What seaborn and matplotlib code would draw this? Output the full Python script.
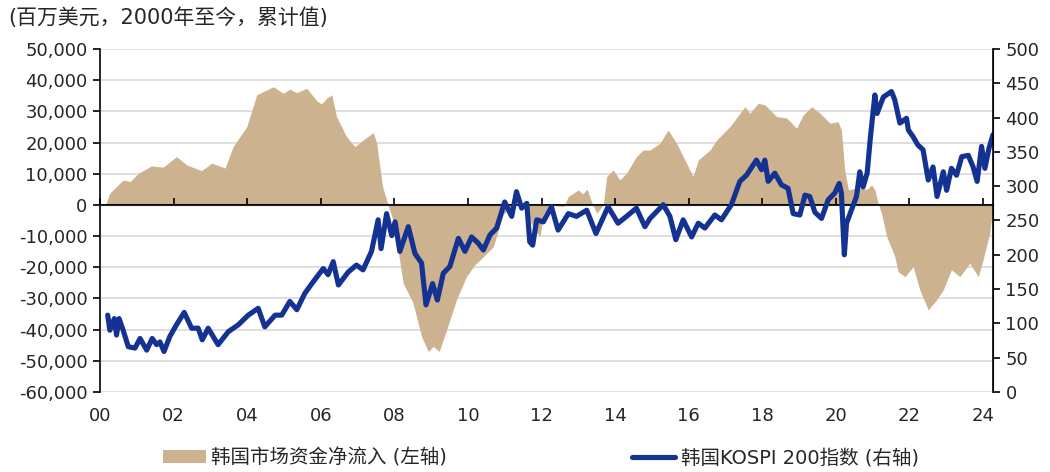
import numpy as np
import pandas as pd
import matplotlib.pyplot as plt
import seaborn as sns
from matplotlib.patches import Patch
from matplotlib.lines import Line2D

sns.set_style('white')
plt.rcParams['font.family'] = ['DejaVu Sans', 'Noto Sans CJK SC']

# %%
# Data
# cumulative net inflow into Korean market, USD mn (left axis)
flow_year = [2000.15, 2000.27, 2000.45, 2000.63, 2000.82, 2001.04, 2001.4, 2001.72, 2002.08, 2002.36,
             2002.76, 2003.04, 2003.4, 2003.62, 2003.99, 2004.26, 2004.71, 2004.98, 2005.16, 2005.35,
             2005.62, 2005.89, 2006.02, 2006.16, 2006.3, 2006.43, 2006.7, 2006.93, 2007.15, 2007.43,
             2007.52, 2007.68, 2007.83, 2008.02, 2008.1, 2008.24, 2008.51, 2008.74, 2008.92, 2009.06,
             2009.22, 2009.42, 2009.69, 2009.96, 2010.19, 2010.42, 2010.69, 2010.96, 2011.14, 2011.32,
             2011.45, 2011.6, 2011.8, 2011.96, 2012.05, 2012.2, 2012.6, 2012.73, 2013.0, 2013.12,
             2013.24, 2013.36, 2013.5, 2013.68, 2013.77, 2013.95, 2014.13, 2014.31, 2014.58, 2014.76,
             2014.95, 2015.22, 2015.44, 2015.67, 2015.85, 2016.12, 2016.26, 2016.58, 2016.76, 2017.12,
             2017.53, 2017.66, 2017.89, 2018.07, 2018.39, 2018.66, 2018.93, 2019.11, 2019.34, 2019.57,
             2019.84, 2020.06, 2020.15, 2020.24, 2020.34, 2020.6, 2020.85, 2020.97, 2021.06, 2021.15,
             2021.24, 2021.38, 2021.6, 2021.69, 2021.88, 2022.1, 2022.28, 2022.51, 2022.74, 2022.92,
             2023.14, 2023.37, 2023.64, 2023.87, 2024.0, 2024.18, 2024.27]
flow_value = [0, 3800, 5900, 8000, 7500, 10100, 12500, 12100, 15500, 12800,
              11000, 13400, 11800, 18700, 25100, 35300, 37900, 35800, 37100, 36000,
              37400, 33400, 32400, 34200, 35300, 28300, 21900, 18700, 20800, 23200,
              19800, 5900, 0, -6900, -14400, -25100, -31500, -42200, -47000, -45400,
              -47000, -40100, -30400, -23000, -19200, -16600, -13400, -3000, -1000, 0,
              500, -2700, -8000, -10000, -3000, 0, -500, 2700, 4800, 3500,
              5100, 1000, -2700, 0, 9100, 11200, 8000, 10200, 15500, 17600,
              17600, 19800, 24000, 19800, 15500, 9100, 14400, 17600, 20800, 25100,
              31500, 29400, 32600, 32100, 28300, 27900, 24600, 28800, 31500, 29400,
              26200, 26700, 24000, 11200, 4800, 5500, 5000, 6400, 4800, 500,
              -2700, -10100, -16500, -21400, -23000, -19800, -27200, -33700, -30400, -27200,
              -20800, -23000, -18700, -23000, -17600, -9100, -500]

# KOSPI 200 index (right axis)
kospi_year = [2000.21, 2000.27, 2000.39, 2000.45, 2000.52, 2000.63, 2000.77, 2000.95, 2001.09, 2001.27,
              2001.42, 2001.54, 2001.63, 2001.74, 2001.9, 2002.08, 2002.29, 2002.49, 2002.67, 2002.78,
              2002.94, 2003.21, 2003.49, 2003.76, 2004.03, 2004.3, 2004.48, 2004.76, 2004.94, 2005.16,
              2005.35, 2005.57, 2005.8, 2006.07, 2006.2, 2006.34, 2006.48, 2006.75, 2006.97, 2007.15,
              2007.38, 2007.56, 2007.64, 2007.79, 2007.93, 2008.02, 2008.15, 2008.38, 2008.56, 2008.74,
              2008.86, 2009.04, 2009.17, 2009.33, 2009.51, 2009.74, 2009.92, 2010.1, 2010.28, 2010.42,
              2010.6, 2010.78, 2011.0, 2011.19, 2011.32, 2011.46, 2011.6, 2011.68, 2011.76, 2011.87,
              2012.05, 2012.27, 2012.45, 2012.73, 2012.95, 2013.23, 2013.48, 2013.81, 2014.08, 2014.31,
              2014.58, 2014.81, 2014.95, 2015.31, 2015.49, 2015.65, 2015.85, 2016.08, 2016.26, 2016.44,
              2016.71, 2016.89, 2017.16, 2017.39, 2017.57, 2017.84, 2017.98, 2018.07, 2018.16, 2018.34,
              2018.52, 2018.7, 2018.84, 2019.02, 2019.16, 2019.29, 2019.43, 2019.61, 2019.79, 2019.97,
              2020.09, 2020.15, 2020.23, 2020.29, 2020.42, 2020.56, 2020.65, 2020.74, 2020.85, 2020.94,
              2021.06, 2021.12, 2021.29, 2021.51, 2021.6, 2021.74, 2021.92, 2021.97, 2022.1, 2022.23,
              2022.37, 2022.51, 2022.64, 2022.75, 2022.92, 2023.01, 2023.14, 2023.28, 2023.42, 2023.6,
              2023.73, 2023.84, 2023.96, 2024.05, 2024.16, 2024.27]
kospi_value = [112, 90, 107, 83, 107, 90, 66, 64, 78, 61,
               78, 69, 73, 59, 81, 98, 116, 93, 93, 76,
               93, 69, 88, 98, 112, 122, 95, 112, 112, 132,
               120, 144, 161, 180, 171, 190, 156, 175, 185, 178,
               205, 251, 209, 260, 228, 248, 205, 241, 202, 188,
               127, 158, 134, 173, 183, 224, 205, 226, 217, 207,
               229, 239, 277, 256, 292, 268, 275, 219, 214, 251,
               248, 270, 236, 260, 256, 265, 231, 270, 246, 256,
               268, 241, 253, 273, 256, 222, 251, 226, 246, 239,
               258, 251, 273, 307, 316, 338, 324, 338, 307, 319,
               302, 297, 260, 258, 287, 285, 262, 253, 280, 290,
               304, 290, 200, 246, 265, 285, 321, 299, 319, 372,
               433, 406, 430, 438, 426, 392, 399, 382, 372, 360,
               353, 309, 328, 285, 321, 294, 326, 316, 343, 345,
               328, 307, 358, 326, 355, 375]

x_ticks = list(range(2000, 2025, 2))
x_labels = ['00', '02', '04', '06', '08', '10', '12', '14', '16', '18', '20', '22', '24']

flow = pd.DataFrame({'year': flow_year, 'flow': flow_value})
kospi = pd.DataFrame({'year': kospi_year, 'kospi': kospi_value})

fill_color = '#CDB290'
line_color = '#143291'

# %%
fig = plt.figure(figsize=(10.5, 4.72), dpi=100)
ax = fig.add_axes([0.0952, 0.1695, 0.8505, 0.7267])

ax.fill_between(flow['year'], flow['flow'], 0, color=fill_color, linewidth=0, zorder=2)
ax.set_xlim(2000, 2024.27)
ax.set_ylim(-60000, 50000)
ax.set_yticks(np.arange(-60000, 50001, 10000))
ax.set_yticklabels([f'{v:,}' for v in range(-60000, 50001, 10000)])
ax.yaxis.grid(True, color='#D9D9D9', linewidth=1.2)
ax.set_axisbelow(True)
ax.axhline(0, color='black', linewidth=1.4, zorder=3)

ax.set_xticks(x_ticks)
ax.set_xticklabels(x_labels)
ax.tick_params(axis='x', length=0, pad=11, labelsize=13)
ax.tick_params(axis='y', direction='out', length=5, width=1.2, color='black', labelsize=13, pad=4, left=True)

# tick marks on the zero line
secax = ax.secondary_xaxis(60000 / 110000)
secax.set_xticks(x_ticks)
secax.set_xticklabels([])
secax.tick_params(axis='x', direction='out', length=5, width=1.2, color='black')
secax.spines['bottom'].set_linewidth(1.4)
secax.set_zorder(5)

for side in ['top', 'bottom']:
    ax.spines[side].set_visible(False)
ax.spines['left'].set_color('black')
ax.spines['left'].set_linewidth(1.2)

ax2 = ax.twinx()
sns.lineplot(data=kospi, x='year', y='kospi', color=line_color, linewidth=3.7, ax=ax2)
ax2.set_ylim(0, 500)
ax2.set_yticks(np.arange(0, 501, 50))
ax2.set_ylabel('')
ax.set_xlabel('')
ax2.set_xlabel('')
ax2.tick_params(axis='y', direction='out', length=5, width=1.2, color='black', labelsize=13, pad=4, right=True)
for side in ['top', 'bottom', 'left']:
    ax2.spines[side].set_visible(False)
ax2.spines['right'].set_color('black')
ax2.spines['right'].set_linewidth(1.2)

fig.text(0.008, 0.963, '(百万美元，2000年至今，累计值)', fontsize=15, ha='left', va='center',
         family=['DejaVu Sans', 'Noto Sans CJK SC'])

handles = [Patch(facecolor=fill_color, edgecolor='none'),
           Line2D([], [], color=line_color, linewidth=3.7)]
fig.legend(handles, ['韩国市场资金净流入 (左轴)', '韩国KOSPI 200指数 (右轴)'],
           loc='center', bbox_to_anchor=(0.515, 0.03), ncol=2, frameon=False,
           fontsize=14, handlelength=2.2, handletextpad=0.3, columnspacing=9.5)

fig.savefig('out.png', dpi=100)
